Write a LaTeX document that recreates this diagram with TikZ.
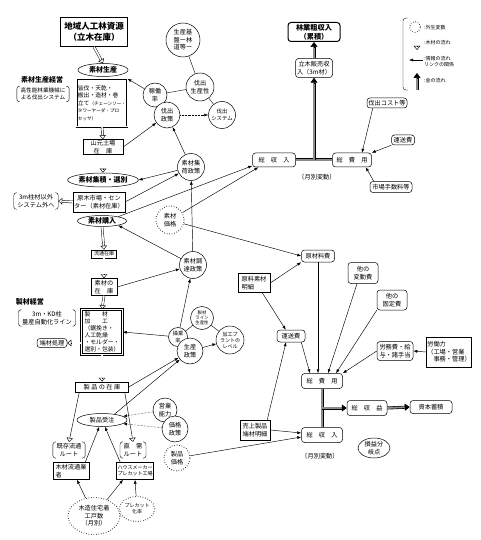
\documentclass[tikz,border=0pt]{standalone}
\usepackage{fontspec}
\setmainfont{Noto Sans CJK JP}
\usetikzlibrary{shapes.geometric,arrows.meta,calc}

\tikzset{
  txt/.style={font=\fontsize{6.2}{7.4}\selectfont, align=center, inner sep=1pt},
  hd/.style={font=\fontsize{7}{8.4}\selectfont\bfseries},
  sm/.style={font=\fontsize{5}{6}\selectfont},
  sqbox/.style={txt, draw, rectangle, fill=white, line width=0.5pt},
  rbox/.style={sqbox, rounded corners=3pt},
  dbox/.style={sqbox, double, double distance=1pt, line width=0.6pt},
  circ/.style={txt, draw, circle, fill=white, line width=0.5pt, inner sep=0.5pt},
  exo/.style={circ, dotted, line width=1pt},
  oval/.style={txt, draw, ellipse, fill=white, line width=0.5pt, inner sep=0.5pt},
  brk/.style={txt, inner xsep=3.5pt, inner ysep=1.5pt},
  info/.style={-{Latex[length=4pt,width=3pt]}, line width=0.45pt},
  wood/.style={double, double distance=1.6pt, line width=0.45pt},
  woodtip/.style={-{Triangle[open,length=4pt,width=6.5pt]}, line width=0.45pt},
  money/.style={double=black!45, double distance=1.8pt, line width=0.6pt},
  moneytip/.style={-{Triangle[length=5pt,width=7pt]}, line width=0.6pt},
}

% 木材の流れ
\newcommand{\woodflow}[2]{%
  \draw[wood] (#1) -- ($(#2)!4pt!(#1)$);
  \draw[woodtip] ($(#2)!4pt!(#1)$) -- (#2);}
% 金の流れ
\newcommand{\moneyflow}[2]{%
  \draw[money] (#1) -- ($(#2)!5pt!(#1)$);
  \draw[moneytip] ($(#2)!5pt!(#1)$) -- (#2);}
% 括弧
\newcommand{\bracketed}[1]{%
  \draw[rounded corners=2.5pt] ([xshift=3pt]#1.north west) -- (#1.north west) -- (#1.south west) -- ([xshift=3pt]#1.south west);
  \draw[rounded corners=2.5pt] ([xshift=-3pt]#1.north east) -- (#1.north east) -- (#1.south east) -- ([xshift=-3pt]#1.south east);}

\begin{document}
\begin{tikzpicture}[x=1pt,y=-1pt]
\useasboundingbox (0,0) rectangle (480,540);

% 素材生産
\node[sqbox, line width=0.9pt, minimum width=67pt, minimum height=29pt, font=\fontsize{8.5}{10.5}\selectfont\bfseries] (res) at (94,32) {地域人工林資源\\（立木在庫）};
\node[oval, hd, minimum width=50pt, minimum height=13pt] (prod) at (103,70) {素材生産};
\node[txt, hd] (fmgt) at (42,80) {素材生産経営};
\node[brk, font=\fontsize{5.6}{7}\selectfont] (hpm) at (43,94) {高性能林業機械に\\よる伐出システム};
\node[dbox, align=left, font=\fontsize{5.8}{7.4}\selectfont, minimum width=46pt, minimum height=48pt] (harv) at (102,103) {皆伐・天乾・\\搬出・造材・巻\\立て{\fontsize{4.6}{6}\selectfont（チェーンソー・}\\{\fontsize{4.6}{6}\selectfont タワーヤーダ・プロ}\\{\fontsize{4.6}{6}\selectfont セッサ）}};
\node[sqbox, minimum width=40pt, minimum height=15pt] (yard) at (103,147) {山元土場\\在　庫};
\node[oval, hd, minimum width=70pt, minimum height=14pt] (coll) at (103,180) {素材集積・選別};
\node[sqbox, minimum width=46pt, minimum height=20pt] (mkt) at (99,202) {原木市場・セン\\ター（素材在庫）};
\node[brk] (out) at (36,201) {3m柱材以外\\システム外へ};
\node[oval, hd, minimum width=49pt, minimum height=11pt] (buy) at (102,221) {素材購入};

% 製材
\node[sqbox, sm, minimum width=25pt, minimum height=8pt] (dist) at (104,254) {流通在庫};
\node[sqbox, minimum width=26pt, minimum height=17pt] (stock) at (104,287) {素材の\\在　庫};
\node[txt, hd] (smgt) at (30,302) {製材経営};
\node[brk] (kd) at (47,318) {3m・KD柱\\量産自動化ライン};
\node[dbox, align=left, font=\fontsize{5.8}{6.9}\selectfont, minimum width=41pt, minimum height=45pt] (saw) at (102,332) {製　　材\\加　　工\\（鋸挽き・\\人工乾燥\\・モルダー・\\選別・包装）};
\node[rbox, minimum width=30pt, minimum height=9pt] (waste) at (52,343) {端材処理};
\node[sqbox, minimum width=53pt, minimum height=10pt] (pstock) at (102,387) {製 品 の 在 庫};
\node[oval, minimum width=50pt, minimum height=13pt] (order) at (102,420) {製品受注};
\node[brk] (rt1) at (69,450) {既存流通\\ルート};
\node[brk] (rt2) at (133,450) {直　需\\ルート};
\node[sqbox, align=left, minimum width=36pt, minimum height=17pt] (dealer) at (71,471) {木材流通業\\者};
\node[sqbox, align=left, sm, minimum width=36pt, minimum height=17pt] (maker) at (135,471) {ハウスメーカー\\プレカット工場};
\node[oval, dotted, line width=1pt, minimum width=52pt, minimum height=37pt] (starts) at (94,516) {木造住宅着\\工戸数\\（月別）};
\node[oval, dotted, line width=1pt, sm, inner sep=0pt, minimum width=33pt, minimum height=25pt] (precut) at (137,509) {プレカット\\化率};

% 政策・変数
\node[circ, minimum size=34pt] (base) at (183,40) {生産基\\盤ー林\\道等ー};
\node[circ, minimum size=28pt] (hprod) at (200,87) {伐出\\生産性};
\node[circ, minimum size=24pt] (rate) at (155,95) {稼働\\率};
\node[circ, minimum size=26pt] (hpol) at (167,115) {伐出\\政策};
\node[circ, minimum size=27pt, font=\fontsize{5.4}{6.8}\selectfont] (hsys) at (222,115) {伐出\\システム};
\node[circ, minimum size=27pt] (cpol) at (191,167) {素材集\\荷政策};
\node[exo, minimum size=28pt] (price) at (170,220) {素材\\価格};
\node[circ, minimum size=27pt] (ppol) at (193,265) {素材調\\達政策};
\node[circ, minimum size=19pt, font=\fontsize{5.2}{6.2}\selectfont] (oper) at (178,337) {操業\\率};
\node[circ, minimum size=23pt, font=\fontsize{4.4}{5.2}\selectfont] (lprod) at (202,318) {製材\\ライン\\生産性};
\node[circ, minimum size=28pt, sm] (plant) at (230,340) {加工プ\\ラントの\\レベル};
\node[circ, minimum size=26pt] (spol) at (190,351) {生産\\政策};
\node[circ, minimum size=24pt] (sales) at (165,410) {営業\\能力};
\node[circ, minimum size=26pt] (ppolicy) at (175,429) {価格\\政策};
\node[exo, minimum size=26pt] (pprice) at (177,458) {製品\\価格};

% 収支
\node[rbox, line width=1pt, minimum width=52pt, minimum height=19pt, font=\fontsize{7.2}{8.6}\selectfont\bfseries] (gross) at (314,32) {林業粗収入\\（累積）};
\node[rbox, minimum width=37pt, minimum height=19pt] (sale) at (314,68) {立木販売収\\入（3m材）};
\node[rbox, minimum width=43pt, minimum height=14pt] (rev1) at (274,160) {総　収　入};
\node[rbox, minimum width=39pt, minimum height=14pt] (cost1) at (352,160) {総　費　用};
\node[txt] (var1) at (317,177) {〔月別変動〕};
\node[rbox, minimum width=40pt, minimum height=10pt] (hcost) at (387,103) {伐出コスト等};
\node[rbox, minimum width=23pt, minimum height=10pt] (tr1) at (403,140) {運送費};
\node[rbox, minimum width=42pt, minimum height=11pt] (fee) at (391,187) {市場手数料等};
\node[rbox, minimum width=33pt, minimum height=12pt] (raw) at (318,256) {原材料費};
\node[sqbox, align=left, minimum width=32pt, minimum height=19pt] (rawd) at (254,283) {原料素材\\明細};
\node[rbox, minimum width=30pt, minimum height=21pt] (oth1) at (363,273) {他の\\変動費};
\node[rbox, minimum width=30pt, minimum height=20pt] (oth2) at (392,300) {他の\\固定費};
\node[rbox, minimum width=28pt, minimum height=12pt] (tr2) at (291,336) {運送費};
\node[rbox, minimum width=36pt, minimum height=19pt] (labor) at (395,351) {労務費・給\\与・諸手当};
\node[sqbox, align=left, minimum width=43pt, minimum height=30pt] (force) at (449,352) {労働力\\（工場・営業\\　事務・管理）};
\node[rbox, minimum width=41pt, minimum height=15pt] (cost2) at (322,381) {総　費　用};
\node[rbox, minimum width=40pt, minimum height=15pt] (profit) at (367,408) {総　収　益};
\node[rbox, minimum width=42pt, minimum height=13pt] (cap) at (431,407) {資本蓄積};
\node[rbox, minimum width=41pt, minimum height=15pt] (rev2) at (322,435) {総　収　入};
\node[txt] (var2) at (320,456) {〔月別変動〕};
\node[oval, minimum width=32pt, minimum height=20pt] (bep) at (374,448) {損益分\\岐点};
\node[sqbox, minimum width=30pt, minimum height=20pt] (salesd) at (255,430) {売上製品\\端材明細};

% 凡例
\draw[rounded corners=3pt] (408,18) -- (403,18) -- (403,90) -- (408,90);
\node[exo, minimum size=11pt] (lg1) at (415,27) {};
\coordinate (lw1) at (417,36);
\coordinate (lw2) at (417,50);
\coordinate (li1) at (423,60);
\coordinate (li2) at (409,60);
\coordinate (lm1) at (417,90);
\coordinate (lm2) at (417,73);
\node[txt, sm, anchor=west] (lt1) at (423,28) {:外生変数};
\node[txt, sm, anchor=west] (lt2) at (423,43) {:木材の流れ};
\node[txt, sm, anchor=west, align=left] (lt3) at (423,62) {:情報の流れ\\リンクの関係};
\node[txt, sm, anchor=west] (lt4) at (423,81) {:金の流れ};
\woodflow{lw1}{lw2}
\draw[info] (li1) -- (li2);
\moneyflow{lm1}{lm2}

% 括弧
\bracketed{hpm}
\bracketed{out}
\bracketed{kd}
\bracketed{rt1}
\bracketed{rt2}

% 木材の流れ
\woodflow{res.south}{prod.north}
\woodflow{harv.south}{yard.north}
\woodflow{yard.south}{coll.north}
\woodflow{mkt.west}{out.east}
\woodflow{buy.south}{dist.north}
\woodflow{dist.south}{stock.north}
\woodflow{stock.south}{saw.north}
\coordinate (sw) at (saw.west |- waste.east);
\woodflow{sw}{waste.east}
\woodflow{saw.south}{pstock.north}
\draw[woodtip] ([xshift=4pt]pstock.south west) -- (rt1.north);
\draw[woodtip] ([xshift=-4pt]pstock.south east) -- (rt2.north);

% 情報の流れ
\draw (base) -- (hprod);
\draw (hprod) -- (rate);
\draw (hprod) -- (hsys);
\draw[info] (rate) -- (harv.north east);
\draw[info] (yard.east) -- (hpol);
\draw[info, densely dotted] (hpol) -- (hsys);
\draw[info] (cpol) -- (hpol);
\draw[info] (cpol) -- (coll.east);
\draw[info] (mkt.east) -- (cpol);
\draw[info] (ppol) -- (cpol);
\draw[info] (ppol) -- (buy.-15);
\draw[info] (stock.east) -- (ppol);
\draw[info] (buy.15) -- (rev1.195);
\draw[info] (price) -- (rev1.205);
\draw[info] (price) -- (raw.west);
\draw[info] (oper) -- (ppol);
\draw[info] (oper) -- (saw.east);
\draw (oper) -- (lprod);
\draw (lprod) -- (plant);
\draw[info] (spol) -- (plant);
\draw[info] (pstock.east) -- (spol);
\draw[info] (order.25) -- (spol);
\draw[info, densely dotted] (sales) -- (order.10);
\draw[info, densely dotted] (ppolicy) -- (order.-10);
\draw[info] ([xshift=-4pt]dealer.north east) -- (order);
\draw[info] ([xshift=4pt]maker.north west) -- (order);
\draw[info] (starts) -- ([xshift=6pt]dealer.south);
\draw[info] (starts) -- ([xshift=-12pt]maker.south);
\draw[info] (precut) -- (maker.south);
\draw[info] (pprice) -- ([yshift=-2pt]rev2.west);
\draw[info] (salesd.east) -- ([yshift=2pt]rev2.west);
\draw[info] ([xshift=-3pt]salesd.north east) -- ([xshift=-5pt]tr2.south);
\draw[info] (rawd.east) -- (raw.south west);
\draw[info] ([xshift=-8pt]rawd.south east) -- (tr2.130);
\draw[info] ([xshift=-4pt]tr2.south east) -- ([xshift=-12pt]cost2.north);
\draw[info] (raw.south) -- (raw.south |- cost2.north);
\draw[info] ([xshift=-6pt]oth1.south) -- ([xshift=6pt]cost2.north);
\draw[info] (oth2.south west) -- ([xshift=14pt]cost2.north);
\draw[info] (labor.west) -- (cost2.north east);
\draw[info] (force.west) -- (labor.east);
\draw[info] ([xshift=6pt]hcost.south west) -- ([xshift=10pt]cost1.north);
\draw[info] (tr1.south west) -- (cost1.north east);
\draw[info] ([xshift=4pt]fee.north west) -- ([xshift=-6pt]cost1.south east);

% 金の流れ
\draw[money] (rev1.east) -- (cost1.west);
\coordinate (j1) at (rev1.east -| sale.south);
\moneyflow{j1}{sale.south}
\moneyflow{sale.north}{gross.south}
\draw[money] (cost2.south) -- (rev2.north);
\coordinate (j2) at (cost2.south |- profit.west);
\moneyflow{j2}{profit.west}
\moneyflow{profit.east}{cap.west}
\end{tikzpicture}
\end{document}
